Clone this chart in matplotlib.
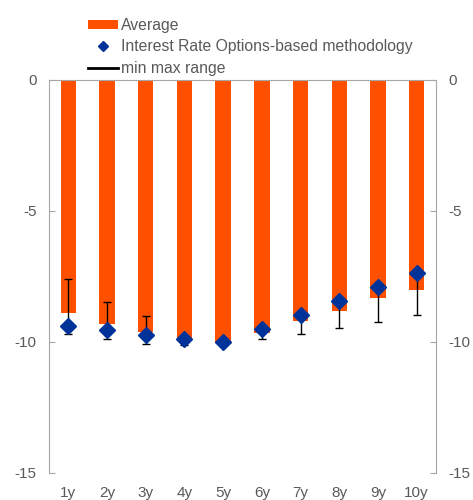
import numpy as np
import matplotlib
matplotlib.use("Agg")
import matplotlib.pyplot as plt
from matplotlib.lines import Line2D
from matplotlib.patches import Patch

plt.rcParams["font.family"] = ["Liberation Sans", "DejaVu Sans"]
plt.rcParams["axes.unicode_minus"] = False

# ---------------------------------------------------------------- data
tenors = ["1y", "2y", "3y", "4y", "5y", "6y", "7y", "8y", "9y", "10y"]
average = [-8.9, -9.3, -9.6, -9.95, -10.0, -9.65, -9.2, -8.8, -8.32, -8.0]
ir_options = [-9.4, -9.55, -9.72, -9.87, -10.0, -9.5, -8.97, -8.44, -7.9, -7.37]
range_min = [-9.68, -9.88, -10.08, -10.12, -10.05, -9.88, -9.68, -9.47, -9.22, -8.98]
range_max = [-7.58, -8.49, -9.0, -9.8, -9.98, -9.45, -8.9, -8.4, -7.85, -7.35]

ORANGE = "#FF5000"
BLUE = "#003399"
GREY = "#A6A6A6"
TXT = "#595959"

# ---------------------------------------------------------------- plot
fig = plt.figure(figsize=(4.73, 5.0), dpi=100)
ax = fig.add_axes([49 / 473, 1 - 473 / 500, 387 / 473, 393 / 500])

x = np.arange(len(tenors))
ax.bar(x, average, width=0.4, color=ORANGE, zorder=2)

lo = np.array(ir_options) - np.array(range_min)
hi = np.array(range_max) - np.array(ir_options)
ax.errorbar(x, ir_options, yerr=[lo, hi], fmt="none", ecolor="black",
            elinewidth=1.0, capsize=3, capthick=1.0, zorder=3)
ax.plot(x, ir_options, ls="none", marker="D", ms=8.5, color=BLUE, zorder=4)

ax.set_xlim(-0.5, len(tenors) - 0.5)
ax.set_ylim(-15, 0)
ax.set_yticks([0, -5, -10, -15])
ax.set_xticks(x)
ax.set_xticklabels(tenors)

ax.tick_params(axis="y", direction="in", length=4, color=GREY, labelcolor=TXT,
               labelsize=11, left=True, right=True, labelleft=True, labelright=True,
               pad=9)
ax.tick_params(axis="x", length=0, labelcolor=TXT, labelsize=11, pad=9)

for s in ["left", "right", "top"]:
    ax.spines[s].set_color(GREY)
ax.spines["bottom"].set_visible(False)

handles = [
    Patch(facecolor=ORANGE, edgecolor="none"),
    Line2D([], [], ls="none", marker="D", ms=5, color=BLUE),
    Line2D([], [], color="black", lw=2),
]
labels = ["Average", "Interest Rate Options-based methodology", "min max range"]
fig.legend(handles, labels, loc="upper left", bbox_to_anchor=(74 / 473, 1 - 4 / 500),
           frameon=False, fontsize=11.3, handlelength=1.9, handleheight=0.5,
           handletextpad=0.2, labelspacing=0.4, labelcolor=TXT)

plt.savefig("out.png", dpi=100)
